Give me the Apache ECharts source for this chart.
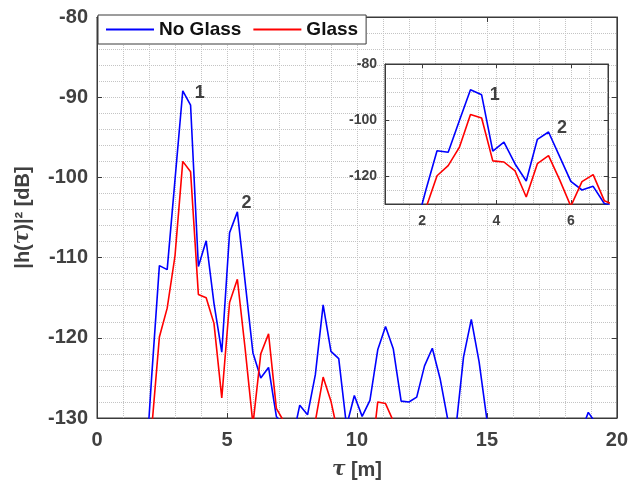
<!DOCTYPE html>
<html><head><meta charset="utf-8">
<script src="https://cdn.jsdelivr.net/npm/echarts@6/dist/echarts.min.js"></script>
<style>html,body{margin:0;padding:0;background:#fff}#c{width:631px;height:488px}</style>
</head><body><div id="c"></div>
<script>
// delay tau [m]
const tau = [1.5,1.8,2.1,2.4,2.7,3.0,3.3,3.6,3.9,4.2,4.5,4.8,5.1,5.4,5.7,6.0,6.3,6.6,6.9,7.2,
  7.5,7.8,8.1,8.4,8.7,9.0,9.3,9.6,9.9,10.2,10.5,10.8,11.1,11.4,11.7,12.0,12.3,12.6,12.9,13.2,
  13.5,13.8,14.1,14.4,14.7,15.0,15.3,15.6,15.9,16.2,16.5,16.8,17.1,17.4,17.7,18.0,18.3,18.6,18.9,19.2,
  19.5,19.8];
// |h(tau)|^2 [dB], No Glass
const noGlass = [-150,-140,-125.0,-111.0,-111.5,-100.3,-89.2,-91.0,-111.1,-107.9,-115.7,-121.8,-106.9,-104.3,-113.1,-121.9,-125.0,-123.7,-129.8,-131,
  -133,-128.4,-129.6,-124.6,-115.9,-121.7,-122.6,-131,-127.2,-129.8,-127.8,-121.5,-118.6,-121.4,-127.9,-128.0,-127.4,-123.5,-121.3,-125.1,
  -130.3,-131.5,-122.4,-117.7,-123.0,-130.2,-140,-140,-140,-140,-140,-140,-140,-140,-140,-140,-140,-131.9,-129.3,-130.7,
  -140,-140];
// |h(tau)|^2 [dB], Glass
const glass = [-150,-145,-131.5,-119.9,-116.3,-109.8,-98.0,-99.3,-114.6,-115.0,-118.2,-127.5,-115.6,-112.7,-121.4,-130.8,-122.0,-119.5,-128.8,-130.5,
  -137,-140,-138,-130.4,-124.9,-127.9,-132.4,-140,-140,-140,-136.7,-128.0,-128.2,-130.4,-137,-140,-140,-140,-140,-140,
  -140,-140,-140,-140,-140,-140,-140,-140,-140,-140,-140,-140,-140,-140,-140,-140,-140,-140,-140,-140,
  -140,-140];
const seriesNames = ['No Glass','Glass'];
const seriesColors = ['#0000ff','#ff0000'];
const xTicksInset = [2,4,6];
const yTicksInset = [-120,-100,-80];
const peakLabels = ['1','2'];
const peakPosMain = [[3.95,-89.5],[5.75,-103.2]];
const peakPosInset = [[3.95,-91.0],[5.76,-102.9]];

const FONT = '"Liberation Sans", Arial, Helvetica, sans-serif';
const AX = '#404040';
const FRAME = '#3a3a3a';
const GRIDC = '#c4c4c4';
const dotted = {show:true, lineStyle:{type:'dotted', color:GRIDC, width:1}};

function baseAxis(extra){
  return Object.assign({
    type:'value',
    axisLine:{show:true, onZero:false, lineStyle:{color:FRAME, width:1}},
    axisTick:{show:true, inside:true, length:5, lineStyle:{color:FRAME}},
    axisLabel:{show:true, color:AX, fontFamily:FONT, fontWeight:'bold'},
    splitLine:{show:false},
    minorTick:{show:false},
    minorSplitLine:{show:false}
  }, extra);
}
function gridOnlyAxis(extra){
  return Object.assign({
    type:'value', z:3,
    axisLine:{show:false}, axisTick:{show:false}, axisLabel:{show:false},
    splitLine:dotted, minorTick:{show:false}, minorSplitLine:{show:false}
  }, extra);
}

const pairs = arr => tau.map((t,i)=>[t, arr[i]]);
const labelData = pos => pos.map((p,i)=>({value:p, name:peakLabels[i]}));
const insetBox = {left:385, right:23, top:64, bottom:284};

const option = {
  animation:false,
  backgroundColor:'#fff',
  grid:[
    {left:97, right:13, top:17, bottom:70, show:true, borderColor:FRAME, borderWidth:1, backgroundColor:'transparent'},
    Object.assign({show:true, borderColor:FRAME, borderWidth:1, backgroundColor:'#fff', z:2}, insetBox),
    Object.assign({show:false, z:3}, insetBox)
  ],
  legend:{
    data:seriesNames.map((n,i)=>({name:n, icon:'rect', itemStyle:{color:seriesColors[i]}})),
    left:98, top:15, orient:'horizontal',
    backgroundColor:'#fff', borderColor:FRAME, borderWidth:1, borderRadius:0,
    padding:[5,8,5,8], itemWidth:48, itemHeight:2, itemGap:12,
    textStyle:{fontFamily:FONT, fontWeight:'bold', fontSize:19, color:'#111', padding:[0,0,0,0]}
  },
  xAxis:[
    baseAxis({gridIndex:0, min:0, max:20, interval:5, position:'bottom',
      axisLabel:{color:AX, fontFamily:FONT, fontWeight:'bold', fontSize:20, margin:12},
      splitLine:dotted, minorTick:{show:false, splitNumber:5}, minorSplitLine:dotted,
      name:'{i|τ} [m]', nameLocation:'middle', nameGap:42,
      nameTextStyle:{fontFamily:FONT, fontWeight:'bold', fontSize:20, color:AX,
        rich:{i:{fontFamily:'"DejaVu Serif", serif', fontStyle:'italic', fontWeight:'bold', fontSize:20, color:AX}}}}),
    baseAxis({gridIndex:0, min:0, max:20, interval:5, position:'top', axisLabel:{show:false}}),
    baseAxis({gridIndex:1, min:1, max:7, position:'bottom', z:4,
      axisTick:{show:true, inside:true, length:4, customValues:xTicksInset, lineStyle:{color:FRAME}},
      axisLabel:{customValues:xTicksInset, color:AX, fontFamily:FONT, fontWeight:'bold', fontSize:14, margin:10}}),
    baseAxis({gridIndex:1, min:1, max:7, position:'top', z:4,
      axisTick:{show:true, inside:true, length:4, customValues:xTicksInset, lineStyle:{color:FRAME}},
      axisLabel:{show:false}}),
    gridOnlyAxis({gridIndex:2, min:1, max:7, interval:0.5, position:'bottom'})
  ],
  yAxis:[
    baseAxis({gridIndex:0, min:-130, max:-80, interval:10, position:'left',
      axisLabel:{color:AX, fontFamily:FONT, fontWeight:'bold', fontSize:20, margin:9},
      splitLine:dotted, minorTick:{show:false, splitNumber:5}, minorSplitLine:dotted,
      name:'|h({i|τ})|² [dB]', nameLocation:'middle', nameGap:64, nameRotate:90,
      nameTextStyle:{fontFamily:FONT, fontWeight:'bold', fontSize:20, color:AX,
        rich:{i:{fontFamily:'"DejaVu Serif", serif', fontStyle:'italic', fontWeight:'bold', fontSize:20, color:AX}}}}),
    baseAxis({gridIndex:0, min:-130, max:-80, interval:10, position:'right', axisLabel:{show:false}}),
    baseAxis({gridIndex:1, min:-130, max:-80, position:'left', z:4,
      axisTick:{show:true, inside:true, length:4, customValues:yTicksInset, lineStyle:{color:FRAME}},
      axisLabel:{customValues:yTicksInset, color:AX, fontFamily:FONT, fontWeight:'bold', fontSize:14, margin:8}}),
    baseAxis({gridIndex:1, min:-130, max:-80, position:'right', z:4,
      axisTick:{show:true, inside:true, length:4, customValues:yTicksInset, lineStyle:{color:FRAME}},
      axisLabel:{show:false}}),
    gridOnlyAxis({gridIndex:2, min:-130, max:-80, interval:5, position:'left'})
  ],
  series:[
    {name:seriesNames[0], type:'line', xAxisIndex:0, yAxisIndex:0, data:pairs(noGlass), symbol:'none',
      lineStyle:{color:seriesColors[0], width:1.6}, itemStyle:{color:seriesColors[0]}, clip:true, z:2},
    {name:seriesNames[1], type:'line', xAxisIndex:0, yAxisIndex:0, data:pairs(glass), symbol:'none',
      lineStyle:{color:seriesColors[1], width:1.6}, itemStyle:{color:seriesColors[1]}, clip:true, z:2},
    {name:seriesNames[0], type:'line', xAxisIndex:2, yAxisIndex:2, data:pairs(noGlass), symbol:'none',
      lineStyle:{color:seriesColors[0], width:1.6}, itemStyle:{color:seriesColors[0]}, clip:true, z:5},
    {name:seriesNames[1], type:'line', xAxisIndex:2, yAxisIndex:2, data:pairs(glass), symbol:'none',
      lineStyle:{color:seriesColors[1], width:1.6}, itemStyle:{color:seriesColors[1]}, clip:true, z:5},
    {name:'peaksMain', type:'scatter', xAxisIndex:0, yAxisIndex:0, data:labelData(peakPosMain), symbolSize:0, silent:true,
      label:{show:true, position:'inside', formatter:'{b}', fontFamily:FONT, fontWeight:'bold', fontSize:18, color:'#111'}, z:6},
    {name:'peaksInset', type:'scatter', xAxisIndex:2, yAxisIndex:2, data:labelData(peakPosInset), symbolSize:0, silent:true,
      label:{show:true, position:'inside', formatter:'{b}', fontFamily:FONT, fontWeight:'bold', fontSize:18, color:'#111'}, z:6}
  ]
};
const chart = echarts.init(document.getElementById('c'), null, {renderer:'canvas'});
chart.setOption(option);
</script></body></html>
